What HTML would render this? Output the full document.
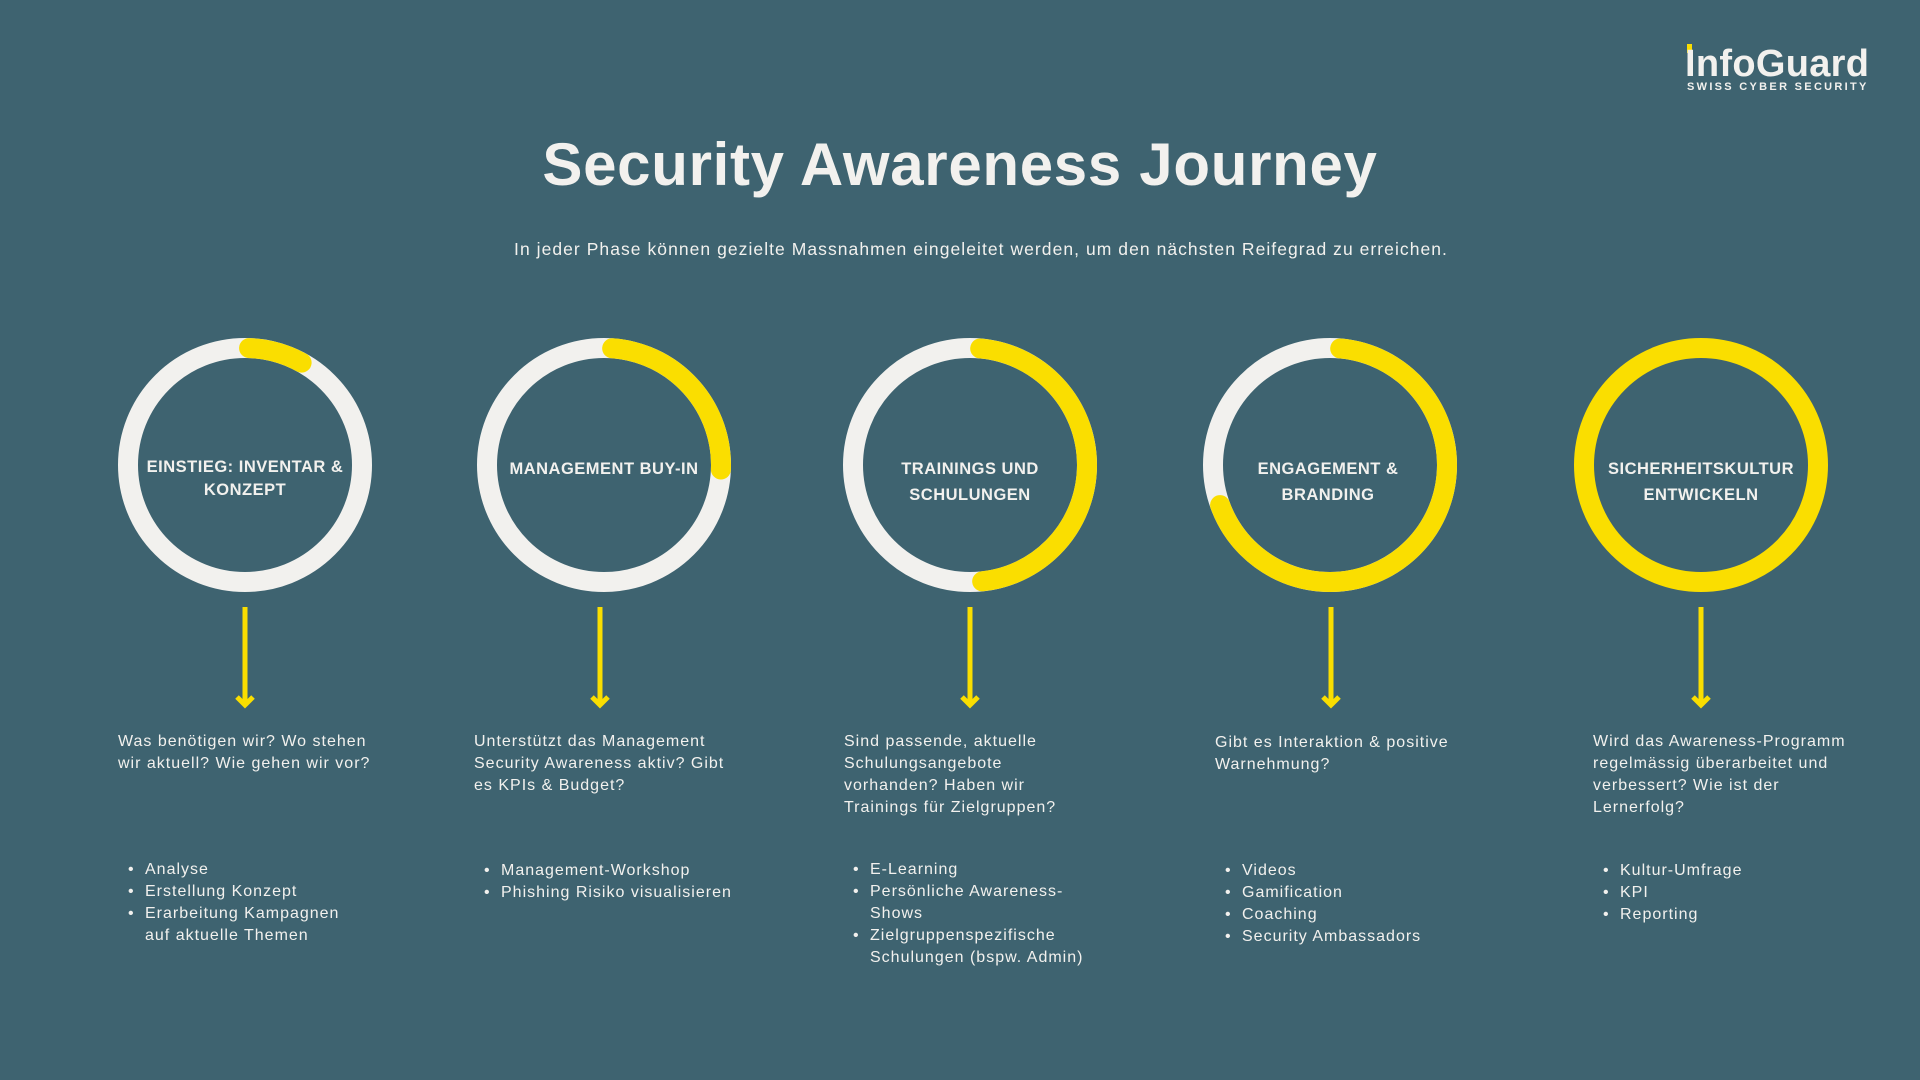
<!DOCTYPE html>
<html><head><meta charset="utf-8"><style>
html,body{margin:0;padding:0;background:#3e6370;}
svg{display:block}
text{font-family:"Liberation Sans",sans-serif;fill:#f2f1ee}
</style></head><body>
<svg width="1920" height="1080" viewBox="0 0 1920 1080" xmlns="http://www.w3.org/2000/svg">
<rect width="1920" height="1080" fill="#3e6370"/>
<!-- logo -->
<rect x="1687" y="44" width="5" height="9" fill="#fade00"/>
<text x="1685" y="76" font-size="38" font-weight="bold" letter-spacing="0.3">InfoGuard</text>
<text x="1687" y="90" font-size="11" font-weight="bold" letter-spacing="2.3">SWISS CYBER SECURITY</text>
<!-- title -->
<text x="960" y="185" font-size="60" font-weight="bold" text-anchor="middle" letter-spacing="0.7">Security Awareness Journey</text>
<text x="981" y="255" font-size="17.5" text-anchor="middle" letter-spacing="1.05">In jeder Phase können gezielte Massnahmen eingeleitet werden, um den nächsten Reifegrad zu erreichen.</text>

<g fill="none" stroke-width="20">
 <g transform="translate(245,465)">
  <circle r="117" stroke="#f2f1ee"/>
  <circle r="117" stroke="#fade00" stroke-linecap="round" stroke-dasharray="55 800" transform="rotate(-88)"/>
 </g>
 <g transform="translate(604,465)">
  <circle r="117" stroke="#f2f1ee"/>
  <circle r="117" stroke="#fade00" stroke-linecap="round" stroke-dasharray="180 800" transform="rotate(-86)"/>
 </g>
 <g transform="translate(970,465)">
  <circle r="117" stroke="#f2f1ee"/>
  <circle r="117" stroke="#fade00" stroke-linecap="round" stroke-dasharray="345 800" transform="rotate(-85)"/>
 </g>
 <g transform="translate(1330,465)">
  <circle r="117" stroke="#f2f1ee"/>
  <circle r="117" stroke="#fade00" stroke-linecap="round" stroke-dasharray="500 800" transform="rotate(-85)"/>
 </g>
 <g transform="translate(1701,465)">
  <circle r="117" stroke="#fade00"/>
 </g>
</g>

<g font-size="16.5" font-weight="bold" text-anchor="middle" letter-spacing="0.5">
 <text x="245" y="472">EINSTIEG: INVENTAR &amp;</text><text x="245" y="495">KONZEPT</text>
 <text x="604" y="474">MANAGEMENT BUY-IN</text>
 <text x="970" y="474">TRAININGS UND</text><text x="970" y="500">SCHULUNGEN</text>
 <text x="1328" y="474">ENGAGEMENT &amp;</text><text x="1328" y="500">BRANDING</text>
 <text x="1701" y="474">SICHERHEITSKULTUR</text><text x="1701" y="500">ENTWICKELN</text>
</g>

<g stroke="#fade00" stroke-width="5" fill="none">
 <path d="M245 607V705M237 697l8 8 8-8"/>
 <path d="M600 607V705M592 697l8 8 8-8"/>
 <path d="M970 607V705M962 697l8 8 8-8"/>
 <path d="M1331 607V705M1323 697l8 8 8-8"/>
 <path d="M1701 607V705M1693 697l8 8 8-8"/>
</g>

<g font-size="16" letter-spacing="1.0">
 <text x="118" y="746">Was benötigen wir? Wo stehen</text>
 <text x="118" y="768">wir aktuell? Wie gehen wir vor?</text>
 <text x="474" y="746">Unterstützt das Management</text>
 <text x="474" y="768">Security Awareness aktiv? Gibt</text>
 <text x="474" y="790">es KPIs &amp; Budget?</text>
 <text x="844" y="746">Sind passende, aktuelle</text>
 <text x="844" y="768">Schulungsangebote</text>
 <text x="844" y="790">vorhanden? Haben wir</text>
 <text x="844" y="812">Trainings für Zielgruppen?</text>
 <text x="1215" y="747">Gibt es Interaktion &amp; positive</text>
 <text x="1215" y="769">Warnehmung?</text>
 <text x="1593" y="746">Wird das Awareness-Programm</text>
 <text x="1593" y="768">regelmässig überarbeitet und</text>
 <text x="1593" y="790">verbessert? Wie ist der</text>
 <text x="1593" y="812">Lernerfolg?</text>
</g>

<g font-size="16" letter-spacing="1.0">
 <text x="128" y="874">•</text><text x="145" y="874">Analyse</text>
 <text x="128" y="896">•</text><text x="145" y="896">Erstellung Konzept</text>
 <text x="128" y="918">•</text><text x="145" y="918">Erarbeitung Kampagnen</text>
 <text x="145" y="940">auf aktuelle Themen</text>

 <text x="484" y="875">•</text><text x="501" y="875">Management-Workshop</text>
 <text x="484" y="897">•</text><text x="501" y="897">Phishing Risiko visualisieren</text>

 <text x="853" y="874">•</text><text x="870" y="874">E-Learning</text>
 <text x="853" y="896">•</text><text x="870" y="896">Persönliche Awareness-</text>
 <text x="870" y="918">Shows</text>
 <text x="853" y="940">•</text><text x="870" y="940">Zielgruppenspezifische</text>
 <text x="870" y="962">Schulungen (bspw. Admin)</text>

 <text x="1225" y="875">•</text><text x="1242" y="875">Videos</text>
 <text x="1225" y="897">•</text><text x="1242" y="897">Gamification</text>
 <text x="1225" y="919">•</text><text x="1242" y="919">Coaching</text>
 <text x="1225" y="941">•</text><text x="1242" y="941">Security Ambassadors</text>

 <text x="1603" y="875">•</text><text x="1620" y="875">Kultur-Umfrage</text>
 <text x="1603" y="897">•</text><text x="1620" y="897">KPI</text>
 <text x="1603" y="919">•</text><text x="1620" y="919">Reporting</text>
</g>
</svg>
</body></html>
